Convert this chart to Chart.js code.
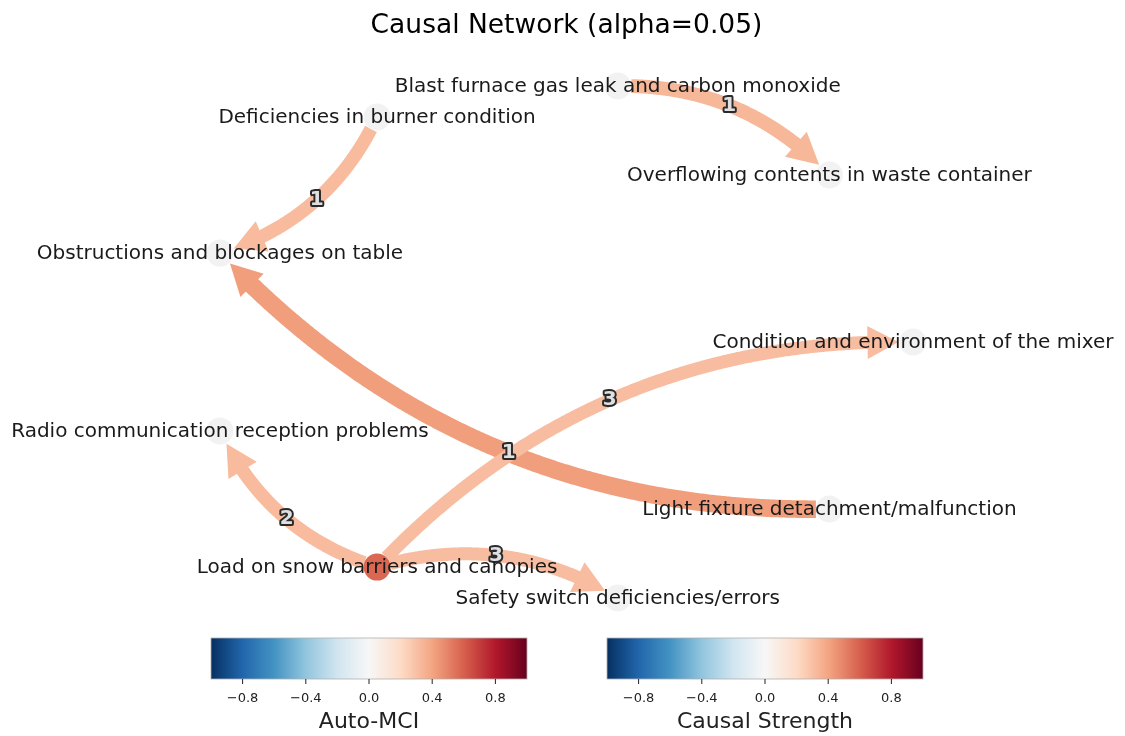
<!DOCTYPE html>
<html>
<head>
<meta charset="utf-8">
<script src="https://cdn.jsdelivr.net/npm/chart.js@4.4.0/dist/chart.umd.min.js"></script>
<style>
  html, body { margin: 0; padding: 0; background: #fff; }
  #wrap { width: 1125px; height: 736px; }
</style>
</head>
<body>
<div id="wrap"><canvas id="net" width="1125" height="736"></canvas></div>
<script>
// nodes sit on a circle, node i at angle i * 40 deg
const nodeNames = [
    "Condition and environment of the mixer",
    "Overflowing contents in waste container",
    "Blast furnace gas leak and carbon monoxide",
    "Deficiencies in burner condition",
    "Obstructions and blockages on table",
    "Radio communication reception problems",
    "Load on snow barriers and canopies",
    "Safety switch deficiencies/errors",
    "Light fixture detachment/malfunction",
];
// null = no significant auto-dependency
const autoMci = [null, null, null, null, null, null, 0.58, null, null];

// links: source -> target
const linkFrom = [2, 3, 8, 6, 6, 6];
const linkTo = [1, 4, 4, 0, 5, 7];
const linkStrength = [0.33, 0.32, 0.42, 0.31, 0.32, 0.31];
const linkLag = [1, 1, 1, 3, 2, 3];

const cbarTicks = [-0.8, -0.4, 0.0, 0.4, 0.8];
const cbarTitles = ["Auto-MCI", "Causal Strength"];

// RdBu_r
const rdbu = ["#053061", "#2166ac", "#4393c3", "#92c5de", "#d1e5f0", "#f7f7f7",
              "#fddbc7", "#f4a582", "#d6604d", "#b2182b", "#67001f"];

function hexRgb(h) {
    return [parseInt(h.substr(1, 2), 16), parseInt(h.substr(3, 2), 16), parseInt(h.substr(5, 2), 16)];
}
function cmap(v) {
    let t = Math.max(0, Math.min(1, (v + 1) / 2)) * 10;
    let i = Math.min(9, Math.floor(t));
    let f = t - i;
    let a = hexRgb(rdbu[i]), b = hexRgb(rdbu[i + 1]);
    let c = a.map((x, k) => Math.round(x + (b[k] - x) * f));
    return "rgb(" + c.join(",") + ")";
}

const nodePoints = nodeNames.map((n, i) => {
    const a = (i * 2 * Math.PI) / nodeNames.length;
    return { x: Math.cos(a), y: Math.sin(a) };
});
const nodeColors = autoMci.map((v) => (v === null ? "#f2f2f2" : cmap(v)));

const NODE_R = 13.5;
const HEAD_LEN = 31;
const HEAD_W = 33;
const ARC_RAD = 0.22;
const FONT = '"DejaVu Sans", "Noto Sans", sans-serif';

function quadPt(p0, c, p2, t) {
    const u = 1 - t;
    return {
        x: u * u * p0.x + 2 * u * t * c.x + t * t * p2.x,
        y: u * u * p0.y + 2 * u * t * c.y + t * t * p2.y,
    };
}

function linkGeom(p0, p2) {
    const dx = p2.x - p0.x, dy = p2.y - p0.y;
    return { x: (p0.x + p2.x) / 2 + ARC_RAD * dy, y: (p0.y + p2.y) / 2 - ARC_RAD * dx };
}

function drawLink(ctx, p0, p2, color, width) {
    const c = linkGeom(p0, p2);
    const N = 400;
    const pts = [], lens = [0];
    for (let i = 0; i <= N; i++) {
        pts.push(quadPt(p0, c, p2, i / N));
        if (i > 0) {
            lens.push(lens[i - 1] + Math.hypot(pts[i].x - pts[i - 1].x, pts[i].y - pts[i - 1].y));
        }
    }
    const total = lens[N];
    const at = (L) => {
        for (let i = 1; i <= N; i++) {
            if (lens[i] >= L) {
                const f = (L - lens[i - 1]) / (lens[i] - lens[i - 1] || 1);
                return {
                    x: pts[i - 1].x + (pts[i].x - pts[i - 1].x) * f,
                    y: pts[i - 1].y + (pts[i].y - pts[i - 1].y) * f,
                };
            }
        }
        return pts[N];
    };
    const startL = NODE_R;
    const tipL = total - NODE_R - 1;
    const baseL = tipL - HEAD_LEN;

    ctx.save();
    ctx.strokeStyle = color;
    ctx.fillStyle = color;
    ctx.lineWidth = width;
    ctx.lineCap = "butt";
    ctx.lineJoin = "round";
    ctx.beginPath();
    let p = at(startL);
    ctx.moveTo(p.x, p.y);
    for (let i = 0; i <= N; i++) {
        if (lens[i] > startL && lens[i] < baseL + 1) ctx.lineTo(pts[i].x, pts[i].y);
    }
    p = at(baseL + 1);
    ctx.lineTo(p.x, p.y);
    ctx.stroke();

    const tip = at(tipL), base = at(baseL);
    let ux = tip.x - base.x, uy = tip.y - base.y;
    const l = Math.hypot(ux, uy);
    ux /= l; uy /= l;
    ctx.beginPath();
    ctx.moveTo(tip.x, tip.y);
    ctx.lineTo(base.x - uy * HEAD_W / 2, base.y + ux * HEAD_W / 2);
    ctx.lineTo(base.x + uy * HEAD_W / 2, base.y - ux * HEAD_W / 2);
    ctx.closePath();
    ctx.fill();
    ctx.restore();
}

function px(chart, p) {
    return { x: chart.scales.x.getPixelForValue(p.x), y: chart.scales.y.getPixelForValue(p.y) };
}

const networkPlugin = {
    id: "network",
    beforeDatasetsDraw(chart) {
        const ctx = chart.ctx;
        linkFrom.forEach((s, k) => {
            const p0 = px(chart, nodePoints[s]);
            const p2 = px(chart, nodePoints[linkTo[k]]);
            drawLink(ctx, p0, p2, cmap(linkStrength[k]), 42 * Math.abs(linkStrength[k]));
        });
    },
    afterDatasetsDraw(chart) {
        const ctx = chart.ctx;
        ctx.save();
        // lag labels
        ctx.font = "bold 20px " + FONT;
        ctx.textAlign = "center";
        ctx.textBaseline = "middle";
        ctx.lineJoin = "round";
        linkFrom.forEach((s, k) => {
            const p0 = px(chart, nodePoints[s]);
            const p2 = px(chart, nodePoints[linkTo[k]]);
            const q = quadPt(p0, linkGeom(p0, p2), p2, 0.48);
            ctx.lineWidth = 4;
            ctx.strokeStyle = "#2a2a2a";
            ctx.strokeText(String(linkLag[k]), q.x, q.y);
            ctx.fillStyle = "#e0e0e0";
            ctx.fillText(String(linkLag[k]), q.x, q.y);
        });
        // node labels
        ctx.font = "20px " + FONT;
        ctx.fillStyle = "#1a1a1a";
        nodeNames.forEach((n, i) => {
            const p = px(chart, nodePoints[i]);
            ctx.fillText(n, p.x, p.y + 1);
        });
        ctx.restore();
    },
    afterDraw(chart) {
        const ctx = chart.ctx;
        ctx.save();
        ctx.fillStyle = "#000";
        ctx.textAlign = "center";
        ctx.textBaseline = "middle";
        ctx.font = "26.5px " + FONT;
        ctx.fillText("Causal Network (alpha=0.05)", 566.5, 26);

        // colorbars
        const bars = [211, 607];
        const bw = 316, top = 638, bh = 41;
        bars.forEach((left, b) => {
            const g = ctx.createLinearGradient(left, 0, left + bw, 0);
            for (let i = 0; i <= 40; i++) g.addColorStop(i / 40, cmap(-1 + (2 * i) / 40));
            ctx.fillStyle = g;
            ctx.fillRect(left, top, bw, bh);
            ctx.strokeStyle = "#b0b0b0";
            ctx.lineWidth = 0.8;
            ctx.strokeRect(left, top, bw, bh);
            ctx.strokeStyle = "#222";
            ctx.fillStyle = "#222";
            ctx.font = "13px " + FONT;
            cbarTicks.forEach((t) => {
                const x = left + ((t + 1) / 2) * bw;
                ctx.beginPath();
                ctx.moveTo(x, top + bh);
                ctx.lineTo(x, top + bh + 5);
                ctx.lineWidth = 1;
                ctx.stroke();
                const s = (t < 0 ? "\u2212" : "") + Math.abs(t).toFixed(1);
                ctx.fillText(s, x, top + bh + 20);
            });
            ctx.font = "22px " + FONT;
            ctx.fillText(cbarTitles[b], left + bw / 2, 722);
        });
        ctx.restore();
    },
};

new Chart(document.getElementById("net").getContext("2d"), {
    type: "scatter",
    data: {
        datasets: [
            {
                data: nodePoints,
                pointRadius: NODE_R,
                pointHoverRadius: NODE_R,
                pointBackgroundColor: nodeColors,
                pointBorderWidth: 0,
                borderWidth: 0,
            },
        ],
    },
    options: {
        responsive: false,
        animation: false,
        events: [],
        layout: {
            padding: { left: 19.75, right: 33.35, top: 30.1, bottom: 82.1 },
        },
        plugins: {
            legend: { display: false },
            tooltip: { enabled: false },
            title: { display: false },
        },
        scales: {
            x: { type: "linear", min: -1.5, max: 1.5, display: false },
            y: { type: "linear", min: -1.2, max: 1.2, display: false },
        },
    },
    plugins: [networkPlugin],
});
</script>
</body>
</html>
